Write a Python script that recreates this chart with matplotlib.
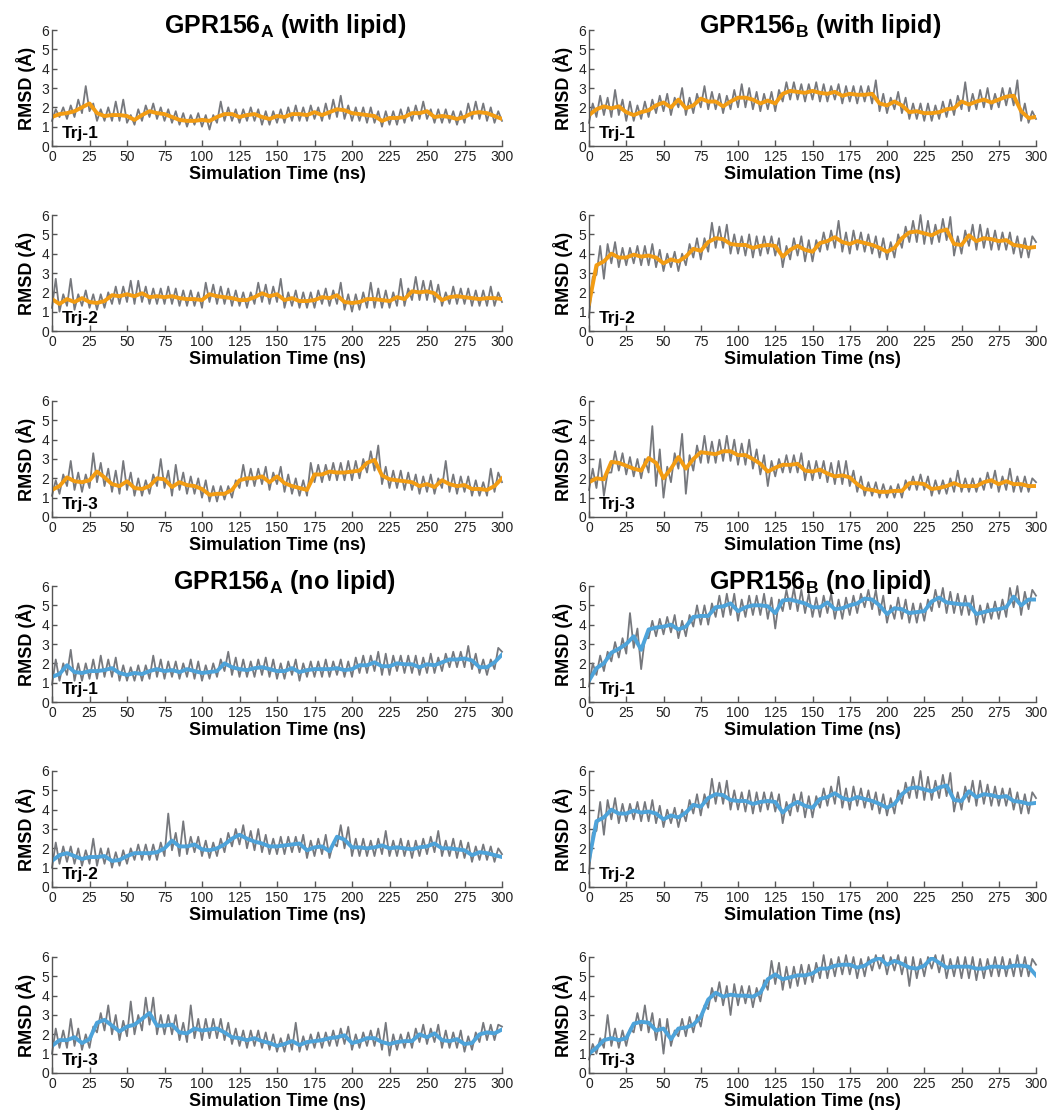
import numpy as np
import matplotlib.pyplot as plt

plt.rcParams['font.family'] = ['Liberation Sans', 'DejaVu Sans']
plt.rcParams['mathtext.fontset'] = 'custom'
plt.rcParams['mathtext.rm'] = 'Liberation Sans'
plt.rcParams['mathtext.bf'] = 'Liberation Sans:bold'

# running averages, read every 5 ns (0..300)
a_lip_1_avg = [1.5, 1.65, 1.7, 1.8, 2.0, 2.2, 1.7, 1.55, 1.6, 1.6,
               1.55, 1.35, 1.6, 1.8, 1.7, 1.65, 1.5, 1.35, 1.3, 1.3,
               1.35, 1.3, 1.5, 1.65, 1.65, 1.5, 1.6, 1.65, 1.5, 1.4,
               1.55, 1.5, 1.65, 1.65, 1.6, 1.75, 1.6, 1.75, 1.9, 1.85,
               1.7, 1.65, 1.6, 1.55, 1.3, 1.45, 1.45, 1.5, 1.7, 1.7,
               1.8, 1.5, 1.55, 1.5, 1.4, 1.5, 1.7, 1.75, 1.7, 1.55,
               1.4]
b_lip_1_avg = [1.6, 1.9, 2.05, 1.95, 2.05, 1.75, 1.6, 1.75, 1.85, 2.1,
               2.25, 2.0, 2.4, 1.95, 2.1, 2.45, 2.3, 2.3, 2.05, 2.3,
               2.5, 2.5, 2.4, 2.2, 2.35, 2.2, 2.7, 2.85, 2.8, 2.75,
               2.85, 2.75, 2.7, 2.8, 2.6, 2.7, 2.65, 2.65, 2.7, 2.2,
               2.1, 2.3, 2.1, 1.75, 1.8, 1.7, 1.7, 1.75, 1.9, 1.95,
               2.3, 2.15, 2.3, 2.4, 2.25, 2.4, 2.55, 2.6, 1.8, 1.45,
               1.5]
a_lip_2_avg = [1.65, 1.4, 1.65, 1.5, 1.7, 1.5, 1.45, 1.55, 1.85, 1.8,
               1.9, 1.8, 1.95, 1.75, 1.8, 1.75, 1.8, 1.7, 1.65, 1.65,
               1.6, 1.9, 1.8, 1.75, 1.7, 1.6, 1.6, 1.75, 1.95, 1.8,
               1.9, 1.6, 1.7, 1.55, 1.55, 1.6, 1.75, 1.7, 1.85, 1.5,
               1.45, 1.5, 1.65, 1.65, 1.6, 1.55, 1.75, 1.65, 2.05, 2.0,
               2.05, 1.95, 1.6, 1.75, 1.8, 1.75, 1.7, 1.65, 1.7, 1.7,
               1.65]
b_trj2_avg = [1.4, 3.4, 3.6, 4.0, 3.8, 3.8, 3.95, 3.85, 3.9, 3.8,
              3.5, 3.7, 3.6, 3.85, 4.25, 4.15, 4.6, 4.8, 4.75, 4.5,
              4.45, 4.45, 4.3, 4.4, 4.45, 4.4, 3.85, 4.2, 4.4, 4.2,
              4.1, 4.55, 4.65, 4.85, 4.6, 4.5, 4.65, 4.55, 4.45, 4.3,
              4.1, 4.3, 4.8, 5.1, 5.15, 5.05, 4.95, 5.15, 5.25, 4.5,
              4.45, 4.95, 4.65, 4.8, 4.75, 4.65, 4.7, 4.45, 4.4, 4.3,
              4.35]
a_lip_3_avg = [1.4, 1.6, 2.05, 1.85, 1.8, 1.9, 2.35, 2.05, 1.7, 1.6,
               1.85, 1.5, 1.45, 1.6, 2.0, 1.95, 1.55, 1.8, 1.65, 1.6,
               1.45, 1.15, 1.2, 1.2, 1.4, 1.9, 2.0, 2.0, 2.1, 1.8,
               2.1, 1.75, 1.6, 1.5, 1.4, 2.2, 2.2, 2.35, 2.3, 2.3,
               2.35, 2.4, 2.8, 2.95, 2.15, 1.95, 1.9, 1.85, 1.8, 1.6,
               1.7, 1.55, 1.9, 1.7, 1.6, 1.65, 1.45, 1.45, 1.4, 1.6,
               2.0]
b_lip_3_avg = [1.8, 2.0, 1.95, 2.85, 2.8, 2.65, 2.5, 2.4, 3.05, 2.8,
               2.0, 2.5, 3.1, 2.5, 3.0, 3.35, 3.3, 3.25, 3.4, 3.4,
               3.2, 3.2, 3.0, 2.75, 2.35, 2.55, 2.7, 2.7, 2.75, 2.4,
               2.35, 2.45, 2.25, 2.1, 2.15, 2.05, 1.7, 1.45, 1.4, 1.3,
               1.3, 1.35, 1.35, 1.75, 1.75, 1.7, 1.45, 1.5, 1.6, 1.75,
               1.6, 1.6, 1.6, 1.8, 1.9, 1.7, 1.85, 1.7, 1.7, 1.6,
               1.6]
a_nol_1_avg = [1.3, 1.45, 1.9, 1.55, 1.5, 1.6, 1.6, 1.65, 1.75, 1.5,
               1.4, 1.5, 1.45, 1.6, 1.7, 1.6, 1.65, 1.55, 1.7, 1.6,
               1.5, 1.55, 1.6, 2.0, 1.8, 1.7, 1.65, 1.75, 1.8, 1.7,
               1.6, 1.6, 1.75, 1.55, 1.65, 1.7, 1.7, 1.7, 1.75, 1.65,
               1.7, 1.9, 1.9, 2.05, 1.85, 1.85, 2.0, 1.95, 1.95, 1.8,
               1.95, 1.9, 2.05, 2.2, 2.2, 2.25, 2.15, 1.8, 1.8, 2.05,
               2.45]
b_nol_1_avg = [1.1, 1.75, 2.0, 2.55, 2.75, 3.0, 3.4, 2.7, 3.75, 3.85,
               3.9, 4.0, 3.75, 3.9, 4.4, 4.45, 4.45, 4.9, 4.95, 5.1,
               4.7, 4.9, 5.0, 5.0, 4.95, 4.6, 5.25, 5.3, 5.2, 5.1,
               4.9, 4.9, 5.15, 4.8, 4.85, 5.0, 5.1, 5.35, 5.3, 5.0,
               4.55, 4.85, 4.8, 4.6, 4.65, 4.7, 5.2, 5.4, 5.15, 5.1,
               5.05, 5.05, 4.55, 4.65, 4.75, 4.8, 4.9, 5.45, 5.0, 5.3,
               5.3]
a_nol_2_avg = [1.35, 1.65, 1.75, 1.6, 1.45, 1.55, 1.55, 1.6, 1.35, 1.4,
               1.6, 1.75, 1.75, 1.75, 1.8, 2.0, 2.4, 2.1, 2.1, 2.2,
               1.95, 1.9, 2.0, 2.2, 2.5, 2.7, 2.5, 2.35, 2.25, 2.1,
               2.1, 2.15, 2.2, 2.25, 1.9, 2.05, 2.1, 1.85, 2.6, 2.45,
               2.05, 2.05, 2.0, 2.05, 2.15, 2.0, 2.05, 2.0, 1.95, 2.05,
               2.1, 2.25, 2.0, 2.0, 1.95, 1.9, 1.65, 1.8, 1.75, 1.65,
               1.55]
a_nol_3_avg = [1.4, 1.7, 1.7, 1.85, 1.55, 1.75, 2.6, 2.75, 2.45, 2.15,
               2.4, 2.5, 2.8, 3.1, 2.45, 2.45, 2.5, 2.1, 2.05, 2.3,
               2.2, 2.25, 2.3, 2.1, 1.85, 1.8, 1.7, 1.8, 1.65, 1.55,
               1.4, 1.5, 1.65, 1.45, 1.6, 1.65, 1.7, 1.8, 1.85, 1.95,
               1.55, 1.65, 1.8, 1.8, 1.6, 1.5, 1.6, 1.65, 1.65, 2.0,
               1.85, 2.05, 1.7, 1.65, 1.75, 1.5, 1.55, 2.0, 2.1, 2.05,
               2.25]
b_nol_3_avg = [1.0, 1.3, 1.7, 1.8, 1.7, 1.8, 2.55, 2.65, 2.6, 2.2,
               2.3, 1.75, 2.3, 2.35, 2.5, 2.9, 3.8, 4.15, 3.95, 4.05,
               4.0, 4.0, 3.95, 4.15, 4.85, 5.1, 4.85, 4.95, 5.05, 5.05,
               5.15, 5.4, 5.4, 5.55, 5.6, 5.6, 5.45, 5.55, 5.8, 5.95,
               5.6, 5.8, 5.65, 5.45, 5.4, 5.55, 5.95, 5.7, 5.45, 5.5,
               5.5, 5.5, 5.4, 5.4, 5.5, 5.5, 5.45, 5.55, 5.55, 5.5,
               5.05]

# raw RMSD, read every 2.5 ns (0..300)
a_lip_1_raw = [1.3, 1.9, 1.5, 2.0, 1.4, 2.1, 1.5, 2.4, 1.7, 3.1, 1.8, 2.2, 1.3, 1.9, 1.3, 2.0, 1.3, 2.3, 1.3, 2.4,
               1.2, 1.6, 1.1, 1.9, 1.3, 2.1, 1.5, 2.2, 1.4, 2.0, 1.3, 1.9, 1.2, 1.8, 1.1, 1.7, 1.0, 1.6, 1.1, 1.7,
               1.0, 1.6, 0.85, 1.6, 1.2, 2.3, 1.3, 2.0, 1.3, 1.9, 1.2, 1.9, 1.3, 2.0, 1.3, 1.9, 1.1, 1.8, 1.1, 1.8,
               1.2, 1.9, 1.2, 2.0, 1.3, 2.1, 1.3, 2.0, 1.3, 2.1, 1.4, 2.0, 1.3, 2.2, 1.4, 2.4, 1.5, 2.6, 1.4, 2.1,
               1.3, 2.0, 1.3, 2.0, 1.2, 2.0, 1.2, 1.8, 1.0, 1.8, 1.1, 1.8, 1.1, 1.9, 1.2, 2.0, 1.3, 2.1, 1.4, 2.3,
               1.4, 1.9, 1.2, 1.9, 1.2, 1.9, 1.2, 1.8, 1.1, 1.8, 1.2, 2.2, 1.4, 2.3, 1.4, 2.2, 1.3, 2.0, 1.2, 1.8,
               1.3]
b_lip_1_raw = [1.2, 2.2, 1.5, 2.6, 1.6, 2.5, 1.5, 2.9, 1.6, 2.4, 1.3, 2.3, 1.3, 2.1, 1.4, 2.3, 1.5, 2.4, 1.7, 2.6,
               1.8, 2.7, 1.6, 2.5, 2.0, 3.0, 1.6, 2.5, 1.7, 2.7, 2.0, 3.1, 1.9, 2.8, 1.9, 2.7, 1.7, 2.6, 1.9, 2.9,
               2.0, 3.2, 2.0, 3.0, 1.9, 2.8, 1.8, 2.7, 1.9, 2.8, 1.8, 2.9, 2.3, 3.3, 2.4, 3.3, 2.4, 3.2, 2.3, 3.2,
               2.4, 3.3, 2.3, 3.2, 2.3, 3.1, 2.4, 3.2, 2.2, 3.1, 2.3, 3.1, 2.2, 3.1, 2.3, 3.1, 2.2, 3.4, 1.8, 2.7,
               1.7, 2.5, 1.9, 2.8, 1.7, 2.5, 1.4, 2.2, 1.4, 2.2, 1.3, 2.2, 1.3, 2.1, 1.4, 2.3, 1.5, 2.4, 1.6, 2.6,
               1.9, 3.3, 1.8, 2.7, 1.9, 2.9, 2.0, 3.0, 1.9, 2.7, 2.0, 3.0, 2.1, 3.0, 2.1, 3.4, 1.3, 2.2, 1.2, 1.8,
               1.4]
a_lip_2_raw = [1.2, 2.7, 1.0, 1.9, 1.3, 2.7, 1.1, 1.9, 1.3, 2.1, 1.2, 1.9, 1.1, 1.9, 1.2, 2.0, 1.4, 2.3, 1.4, 2.3,
               1.5, 2.6, 1.4, 2.6, 1.5, 2.3, 1.4, 2.2, 1.4, 2.2, 1.4, 2.3, 1.4, 2.2, 1.3, 2.1, 1.3, 2.1, 1.3, 2.0,
               1.2, 2.5, 1.5, 2.4, 1.4, 2.3, 1.4, 2.2, 1.3, 2.1, 1.3, 2.0, 1.2, 2.0, 1.4, 2.5, 1.5, 2.4, 1.4, 2.3,
               1.5, 2.7, 1.2, 2.0, 1.3, 2.1, 1.2, 2.0, 1.2, 2.0, 1.2, 2.1, 1.4, 2.2, 1.3, 2.1, 1.4, 2.5, 1.1, 1.9,
               1.0, 1.9, 1.1, 2.0, 1.2, 2.5, 1.2, 2.2, 1.2, 2.1, 1.2, 2.0, 1.3, 2.7, 1.3, 2.2, 1.6, 2.8, 1.6, 2.6,
               1.6, 2.6, 1.5, 2.4, 1.3, 2.0, 1.4, 2.3, 1.4, 2.2, 1.4, 2.2, 1.3, 2.1, 1.3, 2.1, 1.3, 2.3, 1.3, 2.0,
               1.5]
b_trj2_raw = [0.7, 2.8, 2.9, 4.4, 2.7, 4.5, 3.5, 4.6, 3.3, 4.3, 3.4, 4.3, 3.5, 4.4, 3.4, 4.4, 3.4, 4.5, 3.3, 4.2,
              3.1, 4.0, 3.3, 4.1, 3.1, 4.0, 3.4, 4.5, 3.8, 4.8, 3.7, 4.8, 4.1, 5.6, 4.3, 5.4, 4.3, 5.5, 4.0, 5.0,
              4.0, 4.9, 3.9, 5.0, 3.8, 4.9, 3.9, 4.9, 4.0, 4.9, 3.9, 4.8, 3.3, 4.4, 3.7, 4.8, 3.9, 4.9, 3.6, 4.7,
              3.6, 4.7, 4.1, 5.1, 4.2, 5.2, 4.3, 5.7, 4.1, 5.1, 4.0, 5.2, 4.2, 5.1, 4.1, 5.0, 4.0, 4.9, 3.8, 4.8,
              3.7, 4.6, 3.8, 5.0, 4.3, 5.4, 4.6, 5.7, 4.6, 6.0, 4.5, 5.7, 4.5, 5.5, 4.6, 5.8, 4.7, 5.9, 3.9, 4.9,
              4.0, 5.2, 4.4, 5.5, 4.2, 5.5, 4.3, 5.3, 4.2, 5.2, 4.2, 5.1, 4.2, 5.1, 4.0, 4.9, 3.8, 4.8, 3.8, 4.9,
              4.6]
a_lip_3_raw = [1.1, 1.9, 1.2, 2.2, 1.6, 2.9, 1.4, 2.3, 1.3, 2.2, 1.5, 3.3, 1.8, 2.8, 1.6, 2.5, 1.3, 2.4, 1.2, 2.9,
               1.4, 2.3, 1.1, 2.0, 1.1, 1.9, 1.2, 2.2, 1.6, 3.0, 1.5, 2.4, 1.1, 2.7, 1.4, 2.3, 1.2, 2.1, 1.2, 2.0,
               1.0, 1.9, 0.8, 1.6, 0.8, 1.6, 0.9, 1.6, 1.0, 1.9, 1.5, 2.7, 1.6, 2.5, 1.6, 2.5, 1.7, 2.6, 1.4, 2.3,
               1.7, 2.6, 1.3, 2.2, 1.2, 2.0, 1.1, 1.9, 1.1, 2.8, 1.8, 2.7, 1.8, 2.7, 1.9, 2.8, 1.9, 2.8, 1.9, 2.9,
               1.9, 2.9, 2.0, 3.0, 2.3, 3.4, 2.4, 3.7, 1.7, 2.6, 1.5, 2.4, 1.5, 2.4, 1.4, 2.3, 1.4, 2.2, 1.2, 2.1,
               1.3, 2.2, 1.2, 2.0, 1.5, 2.9, 1.3, 2.2, 1.2, 2.1, 1.3, 2.1, 1.1, 1.9, 1.1, 1.8, 1.1, 2.5, 1.3, 2.3,
               1.8]
b_lip_3_raw = [1.4, 2.5, 1.5, 3.0, 1.1, 2.3, 2.3, 3.4, 2.4, 3.3, 2.2, 3.1, 2.1, 3.0, 2.0, 3.0, 2.3, 4.7, 1.6, 3.5,
               1.0, 2.6, 1.8, 3.3, 2.5, 4.3, 1.2, 3.2, 2.4, 3.7, 2.8, 4.2, 2.8, 3.9, 2.8, 4.0, 2.9, 4.2, 2.9, 4.0,
               2.7, 3.8, 2.7, 4.0, 2.5, 3.5, 2.2, 3.2, 1.6, 2.9, 2.1, 3.0, 2.3, 3.2, 2.3, 3.2, 2.3, 3.3, 1.9, 2.9,
               1.9, 2.9, 2.0, 2.9, 1.8, 2.8, 1.7, 2.9, 1.7, 2.9, 1.6, 2.4, 1.3, 2.1, 1.1, 1.8, 1.1, 1.8, 1.0, 1.7,
               1.0, 1.6, 1.0, 1.7, 1.0, 1.9, 1.4, 2.1, 1.4, 2.2, 1.4, 2.1, 1.1, 1.9, 1.2, 1.9, 1.2, 2.0, 1.3, 2.4,
               1.3, 2.0, 1.3, 2.0, 1.3, 2.0, 1.4, 2.3, 1.5, 2.4, 1.3, 2.1, 1.4, 2.5, 1.3, 2.1, 1.3, 2.1, 1.3, 2.0,
               1.8]
a_nol_1_raw = [0.9, 2.2, 1.1, 2.0, 1.4, 2.7, 1.1, 2.0, 1.1, 2.0, 1.2, 2.2, 1.2, 2.4, 1.3, 2.2, 1.3, 2.3, 1.1, 1.9,
               1.1, 1.8, 1.1, 1.9, 1.1, 1.9, 1.2, 2.4, 1.3, 2.2, 1.2, 2.1, 1.3, 2.1, 1.2, 2.0, 1.3, 2.2, 1.2, 2.1,
               1.1, 1.9, 1.2, 2.0, 1.3, 2.2, 1.6, 2.6, 1.4, 2.3, 1.3, 2.2, 1.3, 2.1, 1.3, 2.2, 1.4, 2.3, 1.3, 2.2,
               1.2, 2.0, 1.2, 2.1, 1.4, 2.2, 1.1, 2.0, 1.3, 2.1, 1.3, 2.1, 1.3, 2.2, 1.3, 2.1, 1.4, 2.2, 1.3, 2.1,
               1.3, 2.3, 1.5, 2.4, 1.5, 2.4, 1.6, 2.6, 1.4, 2.5, 1.4, 2.4, 1.6, 2.4, 1.5, 2.4, 1.5, 2.4, 1.4, 2.3,
               1.5, 2.5, 1.5, 2.3, 1.6, 2.5, 1.8, 2.6, 1.8, 2.6, 1.8, 2.9, 1.7, 2.5, 1.5, 2.2, 1.4, 2.2, 1.7, 2.8,
               2.6]
b_nol_1_raw = [0.8, 2.0, 1.4, 2.4, 1.6, 2.6, 2.1, 3.1, 2.3, 3.3, 2.5, 4.6, 2.8, 3.8, 1.7, 3.3, 3.3, 4.2, 3.4, 4.3,
               3.5, 4.4, 3.6, 4.5, 3.3, 4.2, 3.4, 4.5, 3.9, 5.0, 4.0, 5.0, 4.0, 5.1, 4.4, 5.5, 4.4, 5.6, 4.5, 5.6,
               4.2, 5.3, 4.4, 5.5, 4.5, 5.5, 4.5, 5.6, 4.3, 5.4, 3.8, 5.3, 4.7, 5.8, 4.8, 5.9, 4.7, 5.8, 4.6, 5.6,
               4.4, 5.4, 4.4, 5.5, 4.6, 5.6, 4.3, 5.3, 4.3, 5.4, 4.5, 5.5, 4.6, 5.6, 4.9, 5.8, 4.8, 5.8, 4.5, 5.5,
               4.1, 5.0, 4.3, 5.4, 4.3, 5.3, 4.1, 5.1, 4.1, 5.1, 4.2, 5.3, 4.7, 5.8, 4.9, 5.9, 4.6, 5.7, 4.6, 5.6,
               4.5, 5.5, 4.5, 5.5, 4.0, 5.0, 4.1, 5.1, 4.3, 5.2, 4.3, 5.3, 4.4, 5.9, 4.9, 6.0, 4.5, 5.7, 4.8, 5.8,
               5.5]
a_nol_2_raw = [1.0, 2.3, 1.2, 2.1, 1.3, 2.1, 1.2, 2.0, 1.1, 1.9, 1.2, 2.5, 1.1, 2.0, 1.2, 2.0, 1.0, 1.8, 1.1, 1.9,
               1.2, 2.0, 1.4, 2.2, 1.4, 2.2, 1.4, 2.2, 1.4, 2.3, 1.6, 3.8, 1.9, 2.8, 1.6, 3.4, 1.7, 2.6, 1.8, 2.6,
               1.6, 2.4, 1.5, 2.3, 1.6, 2.5, 1.8, 2.8, 2.1, 3.0, 2.2, 3.2, 2.0, 2.9, 1.9, 3.0, 1.8, 2.7, 1.7, 2.5,
               1.7, 2.6, 1.7, 2.6, 1.8, 2.6, 1.8, 2.7, 1.5, 2.4, 1.6, 2.5, 1.7, 2.7, 1.5, 2.3, 2.1, 3.2, 2.0, 3.1,
               1.6, 2.5, 1.6, 2.5, 1.6, 2.4, 1.6, 2.5, 1.7, 2.9, 1.6, 2.4, 1.6, 2.5, 1.6, 2.4, 1.5, 2.4, 1.6, 2.5,
               1.7, 2.6, 1.8, 2.9, 1.6, 2.4, 1.6, 2.5, 1.5, 2.4, 1.5, 2.3, 1.3, 2.1, 1.4, 2.2, 1.4, 2.1, 1.3, 2.0,
               1.7]
a_nol_3_raw = [1.0, 2.3, 1.3, 2.2, 1.3, 2.8, 1.4, 2.3, 1.2, 2.0, 1.3, 2.4, 2.1, 3.1, 2.2, 3.5, 2.0, 3.0, 1.7, 2.7,
               1.9, 3.7, 2.0, 3.0, 2.2, 3.9, 2.5, 3.9, 2.0, 3.0, 2.0, 3.0, 2.0, 3.0, 1.7, 2.6, 1.6, 3.5, 1.8, 2.8,
               1.7, 2.8, 1.8, 2.8, 1.8, 2.8, 1.7, 2.6, 1.5, 2.3, 1.4, 2.2, 1.3, 2.2, 1.4, 2.2, 1.3, 2.1, 1.2, 2.0,
               1.1, 1.8, 1.1, 2.0, 1.2, 2.6, 1.1, 1.9, 1.2, 2.0, 1.3, 2.1, 1.3, 2.1, 1.4, 2.2, 1.4, 2.3, 1.5, 2.4,
               1.2, 2.0, 1.3, 2.1, 1.4, 2.2, 1.4, 2.3, 1.2, 2.6, 0.9, 2.0, 1.2, 2.0, 1.3, 2.1, 1.3, 2.3, 1.6, 2.5,
               1.5, 2.3, 1.6, 2.5, 1.3, 2.2, 1.3, 2.1, 1.3, 2.2, 1.1, 1.9, 1.2, 2.1, 1.6, 2.6, 1.7, 2.5, 1.7, 2.5,
               2.4]
b_nol_3_raw = [0.7, 1.5, 1.0, 1.8, 1.3, 3.0, 1.4, 2.3, 1.3, 2.2, 1.4, 2.3, 2.1, 3.1, 2.2, 3.5, 2.1, 3.1, 1.7, 2.8,
               1.0, 2.8, 1.4, 2.2, 1.9, 2.8, 1.9, 2.9, 2.1, 3.0, 2.4, 3.5, 3.3, 4.4, 3.7, 4.7, 3.5, 4.5, 3.0, 4.6,
               3.5, 4.5, 3.6, 4.5, 3.4, 4.4, 3.7, 4.8, 4.3, 5.8, 4.6, 5.7, 4.3, 5.5, 4.4, 5.5, 4.5, 5.6, 4.6, 5.6,
               4.7, 5.7, 4.9, 6.1, 4.9, 5.9, 5.0, 6.0, 5.1, 6.1, 5.1, 6.0, 4.9, 5.9, 5.0, 6.0, 5.3, 6.1, 5.4, 6.1,
               5.1, 6.0, 5.3, 6.1, 5.1, 6.0, 4.5, 6.0, 4.9, 5.9, 5.0, 6.0, 5.4, 6.1, 5.2, 6.1, 4.9, 5.9, 5.0, 6.0,
               4.9, 6.0, 4.9, 6.0, 4.8, 5.9, 4.9, 5.9, 5.0, 6.0, 5.0, 6.0, 5.0, 5.9, 5.0, 6.1, 5.0, 6.0, 5.0, 5.9,
               5.6]

orange = '#F39C12'
blue = '#4DA3DA'
gray = '#76787D'

# (column, row, raw, average, colour, label)
panels = [
    (0, 0, a_lip_1_raw, a_lip_1_avg, orange, 'Trj-1'),
    (0, 1, a_lip_2_raw, a_lip_2_avg, orange, 'Trj-2'),
    (0, 2, a_lip_3_raw, a_lip_3_avg, orange, 'Trj-3'),
    (1, 0, b_lip_1_raw, b_lip_1_avg, orange, 'Trj-1'),
    (1, 1, b_trj2_raw, b_trj2_avg, orange, 'Trj-2'),
    (1, 2, b_lip_3_raw, b_lip_3_avg, orange, 'Trj-3'),
    (0, 3, a_nol_1_raw, a_nol_1_avg, blue, 'Trj-1'),
    (0, 4, a_nol_2_raw, a_nol_2_avg, blue, 'Trj-2'),
    (0, 5, a_nol_3_raw, a_nol_3_avg, blue, 'Trj-3'),
    (1, 3, b_nol_1_raw, b_nol_1_avg, blue, 'Trj-1'),
    (1, 4, b_trj2_raw, b_trj2_avg, blue, 'Trj-2'),
    (1, 5, b_nol_3_raw, b_nol_3_avg, blue, 'Trj-3'),
]
titles = {(0, 0): r'GPR156$_\mathbf{A}$ (with lipid)',
          (1, 0): r'GPR156$_\mathbf{B}$ (with lipid)',
          (0, 3): r'GPR156$_\mathbf{A}$ (no lipid)',
          (1, 3): r'GPR156$_\mathbf{B}$ (no lipid)'}

W, H = 1058, 1115
fig = plt.figure(figsize=(W / 100, H / 100), dpi=100)
row_tops = [30, 215, 401, 586, 771, 957]
col_left = [52, 589]
col_width = [450, 447]
ax_h = 116

for col, row, raw, avg, color, lab in panels:
    ax = fig.add_axes([col_left[col] / W, 1 - (row_tops[row] + ax_h) / H,
                       col_width[col] / W, ax_h / H])
    ax.plot(np.linspace(0, 300, len(raw)), raw, color=gray, lw=1.3, clip_on=False)
    ax.plot(np.linspace(0, 300, len(avg)), avg, color=color, lw=2.8,
            solid_joinstyle='round')
    ax.set_xlim(0, 300)
    ax.set_ylim(0, 6)
    ax.set_xticks(range(0, 301, 25))
    ax.set_yticks(range(0, 7))
    for s in ['top', 'right']:
        ax.spines[s].set_visible(False)
    for s in ['left', 'bottom']:
        ax.spines[s].set_color('#555555')
        ax.spines[s].set_linewidth(1.0)
    ax.tick_params(axis='x', direction='in', length=4, width=1, color='#555555',
                   labelsize=10, labelcolor='#222222', pad=3)
    ax.tick_params(axis='y', direction='in', length=3.5, width=1, color='#555555',
                   labelsize=10, labelcolor='#222222', pad=2)
    ax.set_xlabel('Simulation Time (ns)', fontsize=13, fontweight='bold', labelpad=1)
    ax.set_ylabel('RMSD (Å)', fontsize=13, fontweight='bold', labelpad=4)
    ax.text(0.022, 0.07, lab, transform=ax.transAxes, fontsize=12.5,
            fontweight='bold', va='baseline')
    if (col, row) in titles:
        ax.text(0.517, 0.975, titles[(col, row)], transform=ax.transAxes,
                fontsize=18, fontweight='bold', ha='center', va='baseline')

fig.savefig('out.png', dpi=100)
